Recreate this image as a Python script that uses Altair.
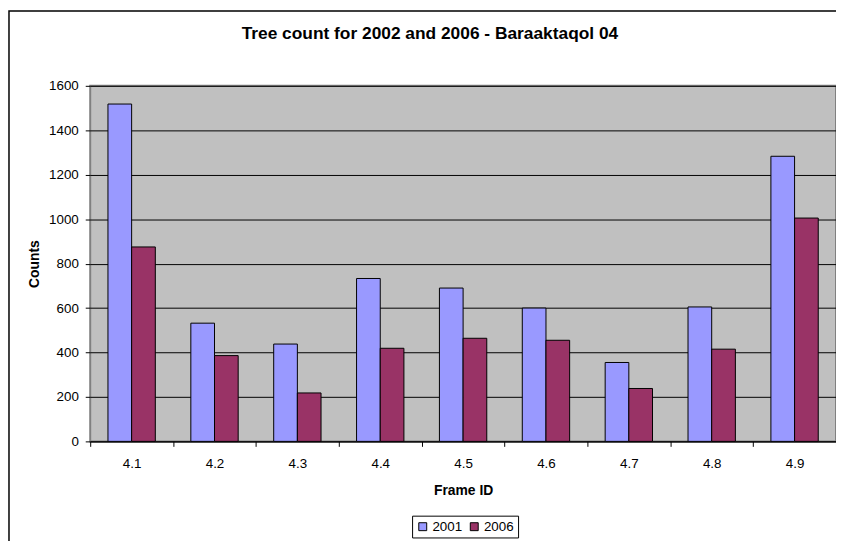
import altair as alt
import pandas as pd

frames = ["4.1", "4.2", "4.3", "4.4", "4.5", "4.6", "4.7", "4.8", "4.9"]
years = ["2001", "2006"]
counts_2001 = [1518, 532, 438, 733, 690, 600, 355, 605, 1283]
counts_2006 = [875, 386, 218, 419, 464, 455, 238, 415, 1005]
y_ticks = [0, 200, 400, 600, 800, 1000, 1200, 1400, 1600]

rows = []
for f, a, b in zip(frames, counts_2001, counts_2006):
    rows.append({"frame": f, "year": years[0], "count": a})
    rows.append({"frame": f, "year": years[1], "count": b})
df = pd.DataFrame(rows)

FONT = "Liberation Sans"

bars = alt.Chart(df).mark_bar(stroke="black", strokeWidth=1).encode(
    x=alt.X(
        "frame:N",
        sort=frames,
        scale=alt.Scale(paddingInner=0, paddingOuter=0),
        axis=alt.Axis(
            title="Frame ID",
            labelAngle=0,
            tickBand="extent",
            tickSize=5,
            tickColor="black",
            domainColor="black",
            domainWidth=1,
            labelPadding=10,
            titlePadding=14,
            grid=False,
        ),
    ),
    xOffset=alt.XOffset(
        "year:N", sort=years, scale=alt.Scale(paddingInner=0, paddingOuter=0.75)
    ),
    y=alt.Y(
        "count:Q",
        scale=alt.Scale(domain=[0, 1600], nice=False),
        axis=alt.Axis(
            title="Counts",
            values=y_ticks,
            format="d",
            tickSize=5,
            tickColor="black",
            domain=False,
            labelPadding=7,
            titlePadding=7,
            grid=True,
            gridColor="black",
            gridWidth=1,
        ),
    ),
    color=alt.Color(
        "year:N",
        sort=years,
        scale=alt.Scale(domain=years, range=["#9999FF", "#993366"]),
        legend=alt.Legend(
            title=None,
            orient="none",
            legendX=325,
            legendY=434,
            direction="horizontal",
            symbolType="square",
            symbolSize=64,
            symbolStrokeColor="black",
            symbolStrokeWidth=1,
            symbolOpacity=1,
            strokeColor="black",
            padding=4,
            labelFontSize=13.5,
            labelFont=FONT,
            labelColor="black",
            columnPadding=5,
            labelOffset=3,
        ),
    ),
)

border = alt.Chart(pd.DataFrame({"a": [0]})).mark_rect(
    fillOpacity=0, stroke="black", strokeWidth=1.5
).encode(
    x=alt.value(-82),
    x2=alt.value(900),
    y=alt.value(-75.5),
    y2=alt.value(600),
)

chart = (
    alt.layer(bars, border)
    .properties(
        width=753,
        height=359,
        padding={"left": 83, "top": 76, "right": 0, "bottom": 98},
        autosize=alt.AutoSizeParams(type="none"),
        title=alt.TitleParams(
            "Tree count for 2002 and 2006 - Baraaktaqol 04",
            fontSize=17.5,
            font=FONT,
            fontWeight="bold",
            color="black",
            anchor="middle",
            baseline="alphabetic",
            dx=-33.5,
            offset=-46.5,
        ),
    )
    .configure(background="white")
    .configure_view(fill="#C0C0C0", stroke="#808080", strokeWidth=2)
    .configure_axis(
        labelFont=FONT,
        labelFontSize=13.5,
        labelColor="black",
        titleFont=FONT,
        titleFontSize=14,
        titleFontWeight="bold",
        titleColor="black",
    )
)

chart.save("out.html", embed_options={"renderer": "svg", "actions": False})
